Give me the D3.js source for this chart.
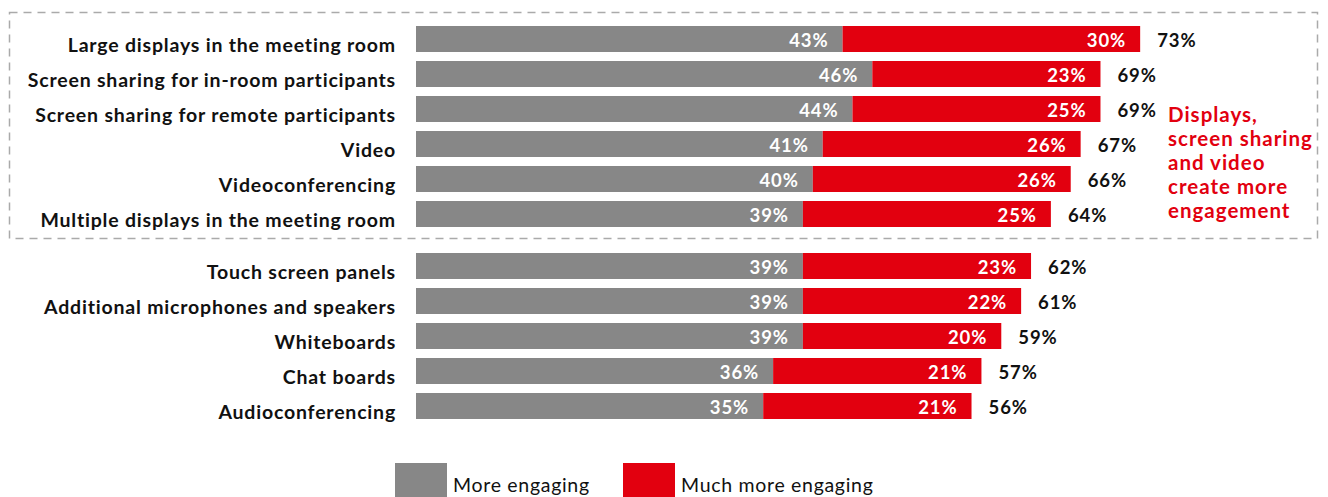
<!DOCTYPE html>
<html>
<head>
<meta charset="utf-8">
<script src="https://cdn.jsdelivr.net/npm/d3@7/dist/d3.min.js"></script>
<style>
  html, body { margin: 0; padding: 0; background: #fff; }
  svg { display: block; }
  text { font-family: "Lato", "Open Sans", sans-serif; }
</style>
</head>
<body>
<svg id="chart" width="1328" height="497"></svg>
<script>
// Technologies grouped: displays/sharing/video (highlighted) and the rest
const groupA = [
  "Large displays in the meeting room",
  "Screen sharing for in-room participants",
  "Screen sharing for remote participants",
  "Video",
  "Videoconferencing",
  "Multiple displays in the meeting room"
];
const groupB = [
  "Touch screen panels",
  "Additional microphones and speakers",
  "Whiteboards",
  "Chat boards",
  "Audioconferencing"
];
const moreEngagingA = [43, 46, 44, 41, 40, 39];
const muchMoreEngagingA = [30, 23, 25, 26, 26, 25];
const moreEngagingB = [39, 39, 39, 36, 35];
const muchMoreEngagingB = [23, 22, 20, 21, 21];
const seriesNames = ["More engaging", "Much more engaging"];
const noteLines = ["Displays,", "screen sharing", "and video", "create more", "engagement"];

const GRAY = "#878787";
const RED = "#e2000f";

const svg = d3.select("#chart");

const x = d3.scaleLinear().domain([0, 100]).range([416, 416 + 992]);

const yA = d3.scaleBand().domain(groupA).range([26, 26 + 6 * 35 - 9])
  .paddingInner(9 / 35).paddingOuter(0);
const yB = d3.scaleBand().domain(groupB).range([253, 253 + 5 * 35 - 9])
  .paddingInner(9 / 35).paddingOuter(0);

// dashed frame around the highlighted group
svg.append("rect")
  .attr("x", 9.5).attr("y", 12.5)
  .attr("width", 1308).attr("height", 226)
  .attr("fill", "none")
  .attr("stroke", "#aaaaaa")
  .attr("stroke-width", 1.5)
  .attr("stroke-dasharray", "8,6");

function drawGroup(cats, more, much, y) {
  const rows = cats.map((c, i) => ({ cat: c, more: more[i], much: much[i], total: more[i] + much[i] }));
  const g = svg.append("g");
  const row = g.selectAll("g.row").data(rows).join("g").attr("class", "row");

  row.append("text")
    .attr("x", 396)
    .attr("y", d => y(d.cat) + y.bandwidth() / 2 + 13)
    .attr("text-anchor", "end")
    .attr("font-size", 19.5)
    .attr("font-weight", 700)
    .attr("letter-spacing", 0.8)
    .attr("fill", "#111")
    .text(d => d.cat);

  row.append("rect")
    .attr("x", x(0))
    .attr("y", d => y(d.cat))
    .attr("width", d => x(d.more) - x(0))
    .attr("height", y.bandwidth())
    .attr("fill", GRAY);

  row.append("rect")
    .attr("x", d => x(d.more))
    .attr("y", d => y(d.cat))
    .attr("width", d => x(d.total) - x(d.more))
    .attr("height", y.bandwidth())
    .attr("fill", RED);

  const valueLabel = (sel) => sel
    .attr("y", d => y(d.cat) + y.bandwidth() / 2 + 8)
    .attr("font-size", 18.5)
    .attr("font-weight", 700)
    .attr("letter-spacing", 0.9);

  row.append("text")
    .call(valueLabel)
    .attr("x", d => x(d.more) - 14)
    .attr("text-anchor", "end")
    .attr("fill", "#fff")
    .text(d => d.more + "%");

  row.append("text")
    .call(valueLabel)
    .attr("x", d => x(d.total) - 14)
    .attr("text-anchor", "end")
    .attr("fill", "#fff")
    .text(d => d.much + "%");

  row.append("text")
    .call(valueLabel)
    .attr("x", d => x(d.total) + 17)
    .attr("fill", "#111")
    .text(d => d.total + "%");
}

drawGroup(groupA, moreEngagingA, muchMoreEngagingA, yA);
drawGroup(groupB, moreEngagingB, muchMoreEngagingB, yB);

// callout for the highlighted group
svg.append("text")
  .attr("x", 1168)
  .attr("y", 122)
  .attr("font-size", 20.5)
  .attr("font-weight", 700)
  .attr("letter-spacing", 1)
  .attr("fill", RED)
  .selectAll("tspan")
  .data(noteLines)
  .join("tspan")
  .attr("x", 1168)
  .attr("dy", (d, i) => i === 0 ? 0 : 24)
  .text(d => d);

// legend
const legend = svg.append("g");
const legendX = [395, 623];
const legendColors = [GRAY, RED];
seriesNames.forEach((name, i) => {
  legend.append("rect")
    .attr("x", legendX[i]).attr("y", 463)
    .attr("width", 52).attr("height", 40)
    .attr("fill", legendColors[i]);
  legend.append("text")
    .attr("x", legendX[i] + 58)
    .attr("y", 492)
    .attr("font-size", 19.5)
    .attr("font-weight", 400)
    .attr("letter-spacing", 0.7)
    .attr("fill", "#111")
    .text(name);
});
</script>
</body>
</html>
